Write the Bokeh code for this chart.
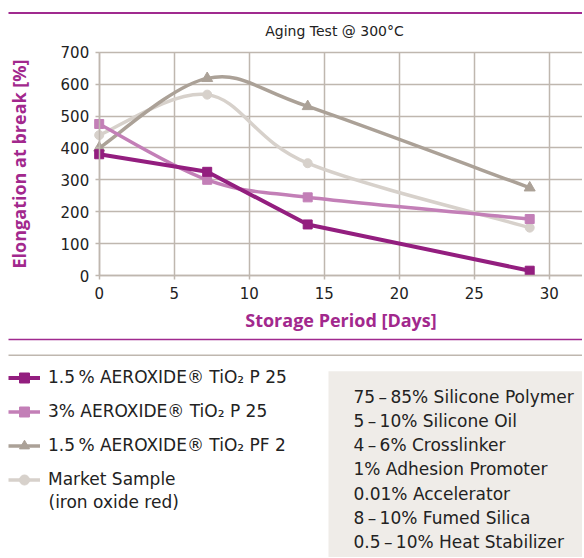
from bokeh.plotting import figure
from bokeh.models import Range1d, FixedTicker, Legend, LegendItem
from bokeh.core.properties import value
from bokeh.embed import file_html
from bokeh.resources import INLINE

FONT = "DejaVu Sans"
BFONT = "Open Sans"

# ---------------- data ----------------
days = [0, 7.2, 13.9, 28.7]
s1_label = "1.5\u2009% AEROXIDE\u00ae TiO\u2082 P 25"
s1 = [380, 325, 160, 15]
s2_label = "3% AEROXIDE\u00ae TiO\u2082 P 25"
s2 = [475, 300, 245, 177]
s3_label = "1.5\u2009% AEROXIDE\u00ae TiO\u2082 PF 2"
s3 = [400, 618, 530, 275]
s4_label = "Market Sample"
s4_note = "(iron oxide red)"
s4 = [440, 567, 352, 150]

x_ticks = [0, 5, 10, 15, 20, 25, 30]
y_ticks = [0, 100, 200, 300, 400, 500, 600, 700]

ingredients = [
    "75\u2009\u2013\u200985% Silicone Polymer",
    "5\u2009\u2013\u200910% Silicone Oil",
    "4\u2009\u2013\u20096% Crosslinker",
    "1% Adhesion Promoter",
    "0.01% Accelerator",
    "8\u2009\u2013\u200910% Fumed Silica",
    "0.5\u2009\u2013\u200910% Heat Stabilizer",
]

C1 = "#931E7F"
C2 = "#C37FB7"
C3 = "#ABA197"
C4 = "#D7D1CB"
MAG = "#A2288D"
RULE = "#A02A8F"
GRID = "#BFB7AF"
TXT = "#222222"

# ---------------- layout (page pixels) ----------------
W, H = 582, 557            # figure size; the frame fills the whole canvas
OX, OY = 2, 1              # figure origin on the page
AX_X, AX_Y = 100.7, 276.0  # page position of the (0, 0) corner of the chart
PX_PER_DAY = 15.0
PX_PER_PCT = (276.0 - 52.7) / 700.0

x0 = -(AX_X - OX) / PX_PER_DAY
x1 = x0 + W / PX_PER_DAY
y1 = (AX_Y - OY) / PX_PER_PCT
y0 = y1 - H / PX_PER_PCT


def dx(px):
    return x0 + (px - OX) / PX_PER_DAY


def dy(py):
    return y1 - (py - OY) / PX_PER_PCT


def smooth(xs, ys):
    n = len(xs)
    out = dict(x0=[], y0=[], x1=[], y1=[], cx0=[], cy0=[], cx1=[], cy1=[])
    for i in range(n - 1):
        a = i - 1 if i > 0 else i
        d = i + 2 if i + 2 < n else i + 1
        out["x0"].append(xs[i]); out["y0"].append(ys[i])
        out["x1"].append(xs[i + 1]); out["y1"].append(ys[i + 1])
        out["cx0"].append(xs[i] + (xs[i + 1] - xs[a]) / 6)
        out["cy0"].append(ys[i] + (ys[i + 1] - ys[a]) / 6)
        out["cx1"].append(xs[i + 1] - (xs[d] - xs[i]) / 6)
        out["cy1"].append(ys[i + 1] - (ys[d] - ys[i]) / 6)
    return out


p = figure(width=W, height=H, output_backend="svg", toolbar_location=None,
           x_range=Range1d(x0, x1), y_range=Range1d(y0, y1), min_border=0,
           outline_line_color=None, title=None)

for ax in (p.xaxis[0], p.yaxis[0]):
    ax.fixed_location = 0
    ax.axis_line_color = GRID
    ax.axis_line_width = 1.5
    ax.major_tick_line_color = GRID
    ax.major_tick_line_width = 1.5
    ax.major_tick_out = 4
    ax.major_tick_in = 0
    ax.minor_tick_line_color = None
    ax.major_label_text_font = FONT
    ax.major_label_text_font_size = "15px"
    ax.major_label_text_color = TXT
    ax.axis_label_text_font = BFONT
    ax.axis_label_text_font_size = "18px"
    ax.axis_label_text_font_style = "bold"
    ax.axis_label_text_color = MAG

p.xaxis.ticker = FixedTicker(ticks=x_ticks)
p.yaxis.ticker = FixedTicker(ticks=y_ticks)
p.xaxis.bounds = (0, x1)
p.yaxis.bounds = (0, 700)
p.xaxis.axis_label = "Storage Period [Days]"
p.yaxis.axis_label = "Elongation at break [%]"
p.xaxis.major_label_standoff = 7
p.xaxis.axis_label_standoff = 6
p.yaxis.major_label_standoff = 6
p.yaxis.axis_label_standoff = 27

p.grid.grid_line_color = GRID
p.grid.grid_line_width = 1.5
p.xgrid.ticker = FixedTicker(ticks=x_ticks)
p.ygrid.ticker = FixedTicker(ticks=y_ticks)
p.xgrid.cross_bounds = (0, 700)
p.ygrid.cross_bounds = (0, x1)

r4 = p.bezier(**smooth(days, s4), line_color=C4, line_width=3.5)
m4 = p.scatter(days, s4, marker="circle", size=9, color=C4)
r3 = p.bezier(**smooth(days, s3), line_color=C3, line_width=3.5)
m3 = p.scatter(days, s3, marker="triangle", size=11, color=C3)
r2 = p.bezier(**smooth(days, s2), line_color=C2, line_width=3.5)
m2 = p.scatter(days, s2, marker="square", size=9, color=C2)
r1 = p.line(days, s1, line_color=C1, line_width=4)
m1 = p.scatter(days, s1, marker="square", size=9, color=C1)

# title
p.text(x=[dx(336)], y=[dy(31)], text=["Aging Test @ 300\u00b0C"], text_align="center",
       text_baseline="middle", text_font=value(FONT), text_font_size="14px", text_color=TXT)

# horizontal rules
p.quad(left=[dx(10)], right=[dx(700)], top=[dy(12.5)], bottom=[dy(14.5)],
       fill_color=RULE, line_color=None)
p.quad(left=[dx(10)], right=[dx(700)], top=[dy(339.2)], bottom=[dy(340.8)],
       fill_color=RULE, line_color=None)
p.quad(left=[dx(10)], right=[dx(700)], top=[dy(354.9)], bottom=[dy(356.5)],
       fill_color=GRID, line_color=None)

# formulation box
p.quad(left=[dx(330)], right=[dx(700)], top=[dy(371.7)], bottom=[dy(700)],
       fill_color="#EFECE8", line_color=None)
p.text(x=[dx(355)] * len(ingredients), y=[dy(397 + 24.3 * i) for i in range(len(ingredients))],
       text=ingredients, text_baseline="middle", text_font=value(FONT),
       text_font_size="17px", text_color=TXT)

items = [LegendItem(label=s1_label, renderers=[r1, m1]),
         LegendItem(label=s2_label, renderers=[r2, m2]),
         LegendItem(label=s3_label, renderers=[r3, m3]),
         LegendItem(label=s4_label, renderers=[r4, m4])]
leg = Legend(items=items, location=(10 - OX, (OY + H) - 492.5), border_line_color=None,
             background_fill_alpha=0, padding=0, margin=0, spacing=9,
             glyph_width=32, glyph_height=25, label_standoff=8, label_height=25,
             label_text_font=FONT, label_text_font_size="17px", label_text_color=TXT)
p.add_layout(leg)
p.text(x=[dx(50)], y=[dy(502)], text=[s4_note], text_baseline="middle",
       text_font=value(FONT), text_font_size="17px", text_color=TXT)

open("out.html", "w").write(file_html(p, INLINE))
